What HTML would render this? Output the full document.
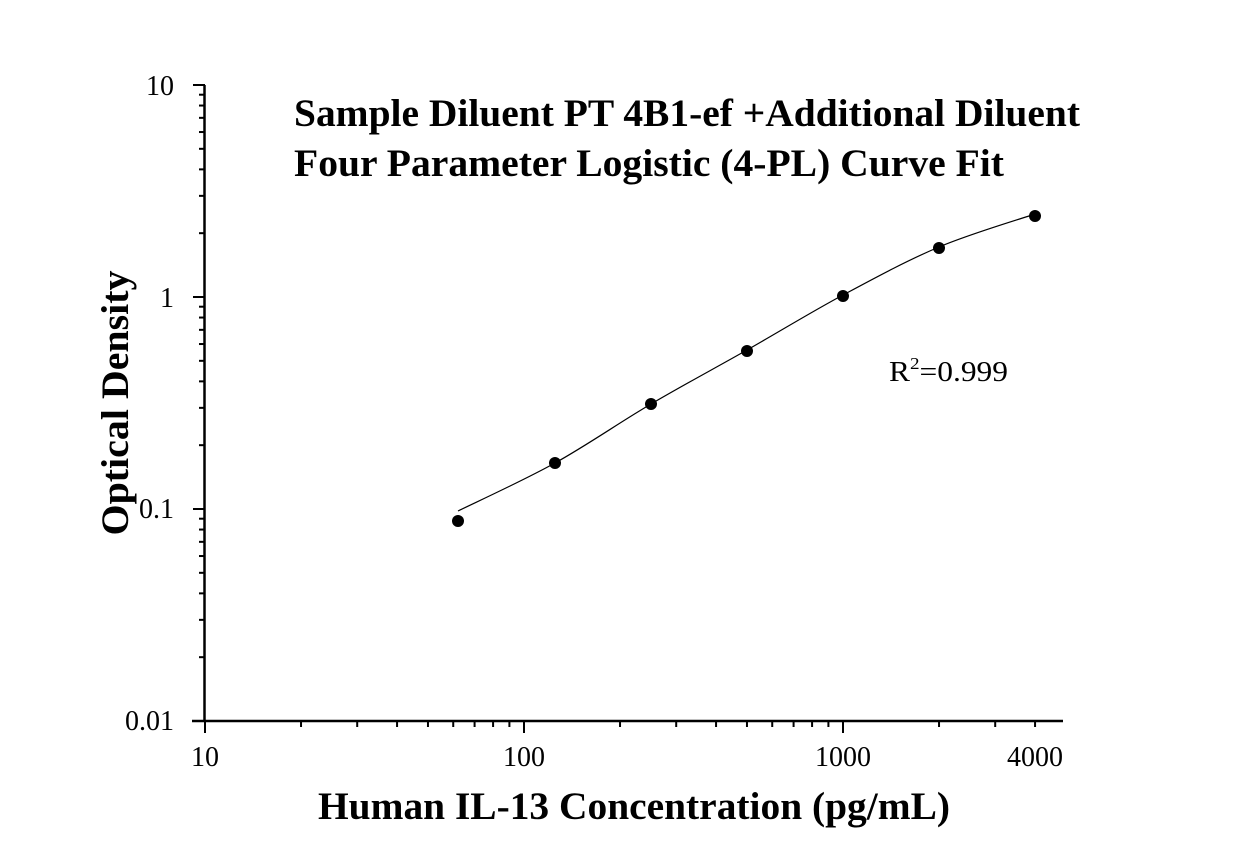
<!DOCTYPE html>
<html><head><meta charset="utf-8"><style>
html,body{margin:0;padding:0;background:#fff;}
svg{display:block;font-family:"Liberation Serif",serif;}
</style></head><body>
<svg id="s" width="1233" height="865" xmlns="http://www.w3.org/2000/svg">
<g stroke="#000" stroke-width="2.5" fill="none">
<line x1="204.5" y1="85" x2="204.5" y2="722"/>
<line x1="192" y1="721" x2="1063" y2="721"/>
</g>
<g id="ticks" stroke="#000" stroke-width="2"></g>
<g font-size="28" fill="#000">
<text x="174" y="95" text-anchor="end">10</text>
<text x="174" y="307" text-anchor="end">1</text>
<text x="174" y="518" text-anchor="end">0.1</text>
<text x="174" y="730" text-anchor="end">0.01</text>
<text x="205" y="766" text-anchor="middle">10</text>
<text x="524" y="766" text-anchor="middle">100</text>
<text x="843" y="766" text-anchor="middle">1000</text>
<text x="1035" y="766" text-anchor="middle">4000</text>
</g>
<g font-weight="bold" font-size="39.5">
<text x="294" y="126" textLength="786" lengthAdjust="spacingAndGlyphs">Sample Diluent PT 4B1-ef +Additional Diluent</text>
<text x="294" y="176" textLength="710" lengthAdjust="spacingAndGlyphs">Four Parameter Logistic (4-PL) Curve Fit</text>
<text x="634" y="819" text-anchor="middle" textLength="632" lengthAdjust="spacingAndGlyphs">Human IL-13 Concentration (pg/mL)</text>
<text transform="translate(128,403) rotate(-90)" text-anchor="middle" textLength="265" lengthAdjust="spacingAndGlyphs">Optical Density</text>
</g>
<text x="889" y="381" font-size="28" textLength="119" lengthAdjust="spacingAndGlyphs">R<tspan font-size="17" dy="-12">2</tspan><tspan dy="12">=0.999</tspan></text>
<path id="curve" d="" stroke="#000" stroke-width="1.2" fill="none"/>
<g fill="#000">
<circle cx="458" cy="521" r="6"/><circle cx="555" cy="463" r="6"/><circle cx="651" cy="404" r="6"/>
<circle cx="747" cy="351" r="6"/><circle cx="843" cy="296" r="6"/><circle cx="939" cy="248" r="6"/>
<circle cx="1035" cy="216" r="6"/>
</g>
</svg>
<script>
var g=document.getElementById('ticks'),h='';
var x0=205,dx=319,y0=721,dy=212;
for(var d=1;d<=3;d++)for(var m=1;m<=9;m++){var v=d+Math.log10(m);var x=x0+(v-1)*dx;if(x>1063)break;var L=(m==1)?12:6;h+='<line x1="'+x+'" y1="721" x2="'+x+'" y2="'+(721+L)+'"/>';}
for(var d=-2;d<=0;d++)for(var m=1;m<=9;m++){var v=d+Math.log10(m);var y=y0-(v+2)*dy;var L=(m==1)?12:6;h+='<line x1="205" y1="'+y+'" x2="'+(205-L)+'" y2="'+y+'"/>';}
h+='<line x1="205" y1="85" x2="193" y2="85"/>';
g.innerHTML=h;
var P=[[458,511],[555,463],[651,404],[747,350],[843,295],[939,247],[1035,214]];
var s='M'+P[0][0]+','+P[0][1];
for(var i=0;i<P.length-1;i++){var p0=P[Math.max(i-1,0)],p1=P[i],p2=P[i+1],p3=P[Math.min(i+2,P.length-1)];
s+=' C'+(p1[0]+(p2[0]-p0[0])/6)+','+(p1[1]+(p2[1]-p0[1])/6)+' '+(p2[0]-(p3[0]-p1[0])/6)+','+(p2[1]-(p3[1]-p1[1])/6)+' '+p2[0]+','+p2[1];}
document.getElementById('curve').setAttribute('d',s);
</script>
</body></html>
